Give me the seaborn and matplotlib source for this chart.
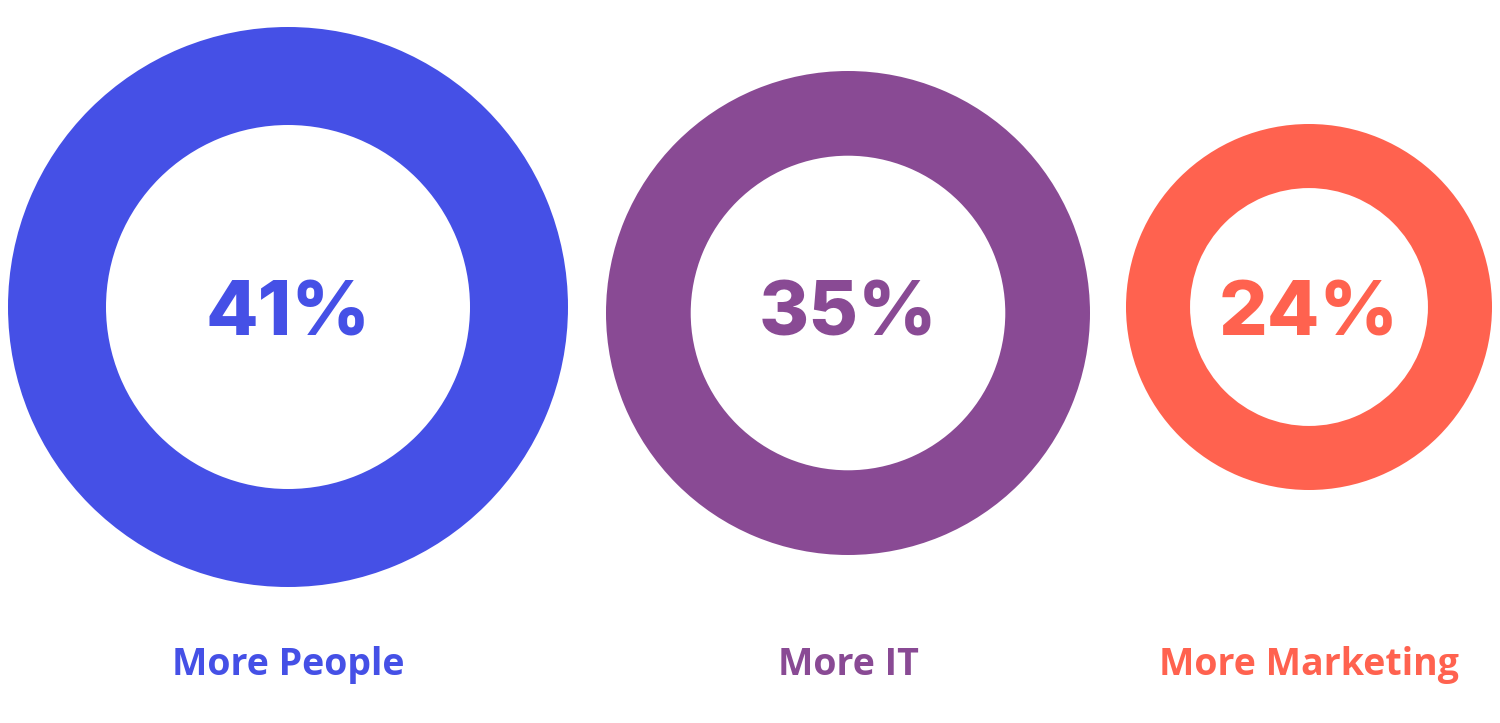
import matplotlib
matplotlib.use("Agg")
import matplotlib.pyplot as plt
import seaborn as sns

# chart data
labels = ["More People", "More IT", "More Marketing"]
shares = [41, 35, 24]
colours = ["#4550E6", "#894A94", "#FF624F"]

# layout (pixel space of the 1500x723 canvas)
centres_x = [288, 848, 1309]
centres_y = [307, 313, 307]
outer_r = [280, 242, 183]
hole_ratio = 0.65
value_y = 316
label_y = 665

sns.set_theme(style="white")
plt.rcParams["font.family"] = ["Open Sans", "DejaVu Sans"]

fig = plt.figure(figsize=(15, 7.23), dpi=100)
ax = fig.add_axes([0, 0, 1, 1])

for share, col, cx, cy, r, lab in zip(shares, colours, centres_x, centres_y,
                                      outer_r, labels):
    ax.pie([share], colors=[col], center=(cx, cy), radius=r, frame=True,
           wedgeprops={"width": r * (1 - hole_ratio), "linewidth": 0})
    ax.text(cx, value_y, f"{share}%", color=col, ha="center", va="center",
            fontsize=55, fontweight=800, family=["Inter", "DejaVu Sans"])
    ax.text(cx, label_y, lab, color=col, ha="center", va="center",
            fontsize=27, fontweight="bold")

ax.set_xlim(0, 1500)
ax.set_ylim(723, 0)
ax.set_aspect("equal")
ax.axis("off")

fig.savefig("out.png", dpi=100, facecolor="white")
